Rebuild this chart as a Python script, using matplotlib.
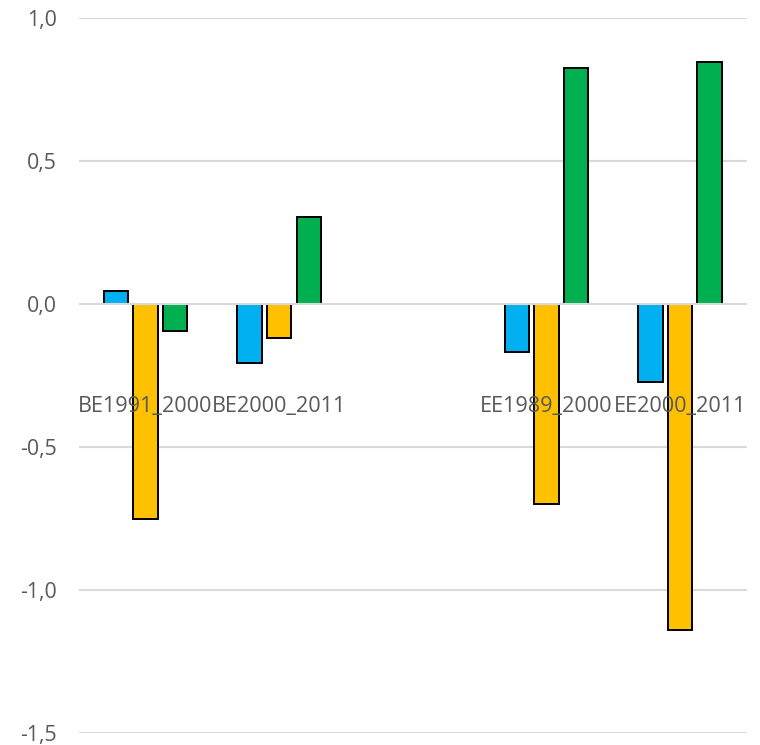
import matplotlib
matplotlib.use("Agg")
import matplotlib.pyplot as plt
import numpy as np
from matplotlib.ticker import FuncFormatter, MultipleLocator

# Category labels (the third slot is an empty spacer category)
categories = ["BE1991_2000", "BE2000_2011", "", "EE1989_2000", "EE2000_2011"]

# Three series per category
series_blue = [0.043, -0.207, np.nan, -0.168, -0.274]
series_yellow = [-0.753, -0.119, np.nan, -0.700, -1.140]
series_green = [-0.094, 0.303, np.nan, 0.822, 0.843]

colors = ["#00B0F0", "#FFC000", "#00B050"]
text_color = "#595959"
grid_color = "#D9D9D9"

plt.rcParams["font.family"] = ["Open Sans", "DejaVu Sans"]

fig = plt.figure(figsize=(7.6, 7.45), dpi=100)
ax = fig.add_axes([0.1036, 0.0161, 0.879, 0.9604])

x = np.arange(len(categories))
slot = 0.2216
bar_w = 0.183
for i, (vals, col) in enumerate(zip([series_blue, series_yellow, series_green], colors)):
    ax.bar(x + (i - 1) * slot, vals, width=bar_w, color=col,
           edgecolor="black", linewidth=1.4, zorder=2)

ax.set_xlim(-0.5, len(categories) - 0.5)
ax.set_ylim(-1.5, 1.0)
ax.yaxis.set_major_locator(MultipleLocator(0.5))
ax.yaxis.set_major_formatter(FuncFormatter(lambda v, p: f"{v:.1f}".replace(".", ",")))
ax.grid(axis="y", color=grid_color, linewidth=1.5, zorder=0)
ax.axhline(0, color=grid_color, linewidth=1.5, zorder=3)

ax.set_xticks([])
for xi, lab in zip(x, categories):
    ax.text(xi, -0.36, lab, ha="center", va="center", fontsize=15.6,
            color=text_color, zorder=4)

ax.tick_params(axis="y", length=0, pad=16, labelsize=15.3, labelcolor=text_color)
for s in ax.spines.values():
    s.set_visible(False)

fig.savefig("out.png", dpi=100)
